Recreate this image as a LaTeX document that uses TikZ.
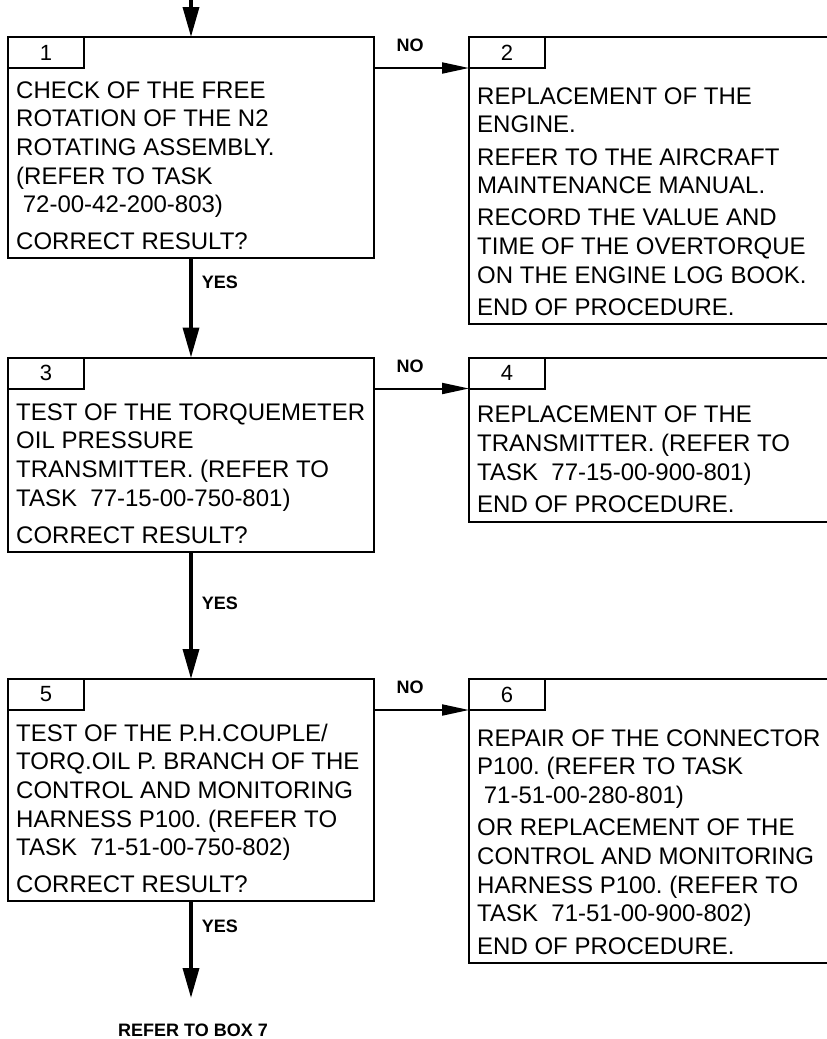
\documentclass[tikz,border=0pt]{standalone}
\usepackage{fontspec}
\setmainfont{Liberation Sans}
\usetikzlibrary{arrows.meta, positioning, calc}

\begin{document}
\begin{tikzpicture}[
    x=1pt, y=-1pt,
    box/.style={draw, line width=2pt, outer sep=0pt, minimum width=366pt, anchor=north west},
    tab/.style={draw, line width=2pt, outer sep=0pt, inner sep=0pt, minimum width=76pt,
        minimum height=31pt, anchor=north west, font=\fontsize{22}{24}\selectfont},
    txt/.style={anchor=base west, inner sep=0pt, align=left, font=\fontsize{24}{28.7}\selectfont\frenchspacing},
    lbl/.style={inner sep=0pt, font=\fontsize{18}{20}\selectfont\bfseries},
    yesarr/.style={-{Triangle[length=30pt, width=16pt]}, line width=3.5pt},
    noarr/.style={-{Triangle[length=27pt, width=11pt]}, line width=2pt}
]
\clip (0,0) rectangle (827,1039);

\node[box, minimum height=221pt] (b1) at (8,37) {};
\node[tab] (t1) at (b1.north west) {1};
\node[txt] (x1) at ($(b1.south west)+(8,-8.5)$) {CHECK OF THE FREE\\ROTATION OF THE N2\\ROTATING ASSEMBLY.\\(REFER TO TASK\\\ 72-00-42-200-803)\\[8pt]CORRECT RESULT?};

\node[box, minimum height=287pt] (b2) at (469,37) {};
\node[tab] (t2) at (b2.north west) {2};
\node[txt] (x2) at ($(b2.south west)+(8,-8.5)$) {REPLACEMENT OF THE\\ENGINE.\\[3.5pt]REFER TO THE AIRCRAFT\\MAINTENANCE MANUAL.\\[3.5pt]RECORD THE VALUE AND\\TIME OF THE OVERTORQUE\\ON THE ENGINE LOG BOOK.\\[3.5pt]END OF PROCEDURE.};

\node[box, minimum height=194pt] (b3) at (8,357.5) {};
\node[tab] (t3) at (b3.north west) {3};
\node[txt] (x3) at ($(b3.south west)+(8,-8.5)$) {TEST OF THE TORQUEMETER\\OIL PRESSURE\\TRANSMITTER. (REFER TO\\TASK~~77-15-00-750-801)\\[8pt]CORRECT RESULT?};

\node[box, minimum height=164pt] (b4) at (469,357.5) {};
\node[tab] (t4) at (b4.north west) {4};
\node[txt] (x4) at ($(b4.south west)+(8,-9)$) {REPLACEMENT OF THE\\TRANSMITTER. (REFER TO\\TASK~~77-15-00-900-801)\\[3.5pt]END OF PROCEDURE.};

\node[box, minimum height=222pt] (b5) at (8,679) {};
\node[tab] (t5) at (b5.north west) {5};
\node[txt] (x5) at ($(b5.south west)+(8,-8.5)$) {TEST OF THE P.H.COUPLE/\\TORQ.OIL P. BRANCH OF THE\\CONTROL AND MONITORING\\HARNESS P100. (REFER TO\\TASK~~71-51-00-750-802)\\[8pt]CORRECT RESULT?};

\node[box, minimum height=284pt] (b6) at (469,679) {};
\node[tab] (t6) at (b6.north west) {6};
\node[txt] (x6) at ($(b6.south west)+(8,-9)$) {REPAIR OF THE CONNECTOR\\P100. (REFER TO TASK\\\ 71-51-00-280-801)\\[3.5pt]OR REPLACEMENT OF THE\\CONTROL AND MONITORING\\HARNESS P100. (REFER TO\\TASK~~71-51-00-900-802)\\[3.5pt]END OF PROCEDURE.};

\coordinate (in1) at ($(b1.north)+(0,-37)$);
\coordinate (out7) at ($(b5.south)+(0,97)$);
\node[lbl, anchor=base] (ref7) at ($(out7)+(2,38)$) {REFER TO BOX 7};

\draw[yesarr] (in1) -- (b1.north);
\draw[yesarr] (b1.south) -- node[lbl, pos=0.24, right=9pt] {YES} (b3.north);
\draw[yesarr] (b3.south) -- node[lbl, pos=0.41, right=9pt] {YES} (b5.north);
\draw[yesarr] (b5.south) -- node[lbl, pos=0.26, right=9pt] {YES} (out7);

\draw[noarr] (t1.south -| b1.east) -- node[lbl, pos=0.38, above=15pt] {NO} (t2.south -| b2.west);
\draw[noarr] (t3.south -| b3.east) -- node[lbl, pos=0.38, above=15pt] {NO} (t4.south -| b4.west);
\draw[noarr] (t5.south -| b5.east) -- node[lbl, pos=0.38, above=15pt] {NO} (t6.south -| b6.west);
\end{tikzpicture}
\end{document}
